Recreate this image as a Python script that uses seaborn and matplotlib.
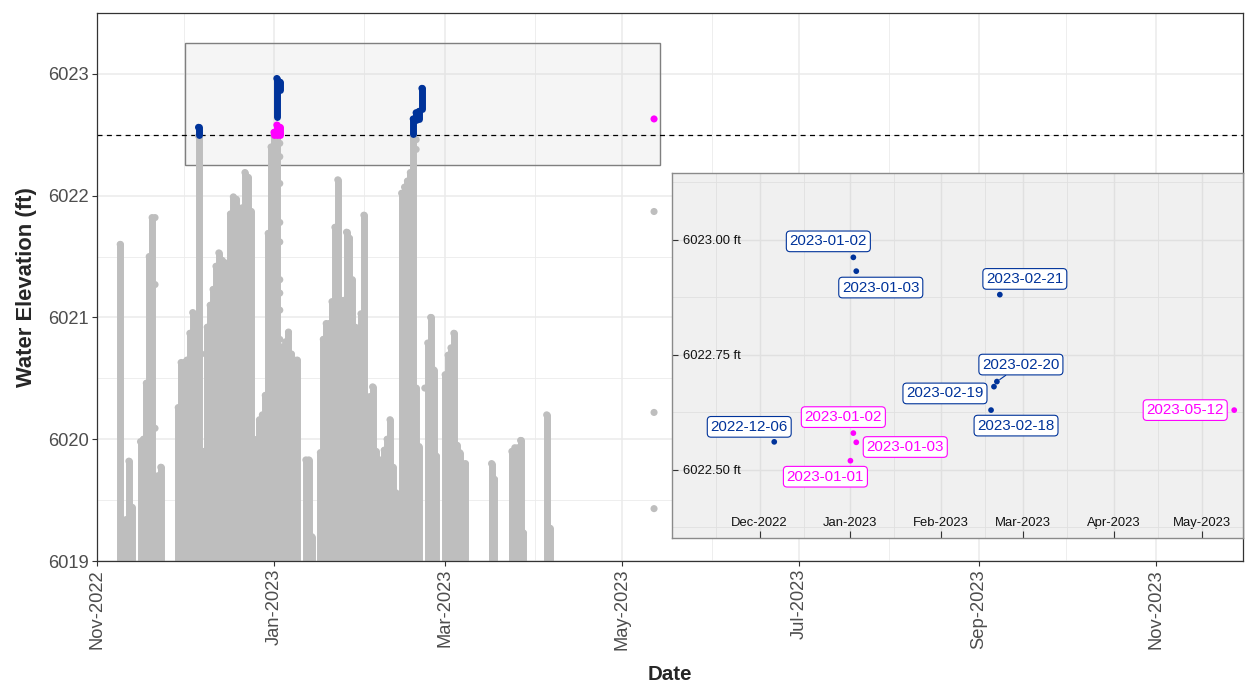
import numpy as np
import pandas as pd
import matplotlib
matplotlib.use("Agg")
import matplotlib.pyplot as plt
import matplotlib.dates as mdates
from matplotlib.patches import Rectangle
from matplotlib.ticker import MultipleLocator, FixedLocator, FuncFormatter
from matplotlib.colors import to_rgba
import seaborn as sns

# ------------------------------------------------------------------ data
# daily reading columns (gray): date and highest reading of the day (ft)
gray_dates = [
    "2022-11-09", "2022-11-11", "2022-11-12", "2022-11-13", "2022-11-16", "2022-11-17",
    "2022-11-18", "2022-11-19", "2022-11-20", "2022-11-22", "2022-11-23",
    "2022-11-29", "2022-11-30", "2022-12-01", "2022-12-02", "2022-12-03", "2022-12-04",
    "2022-12-06", "2022-12-08", "2022-12-09", "2022-12-10", "2022-12-11", "2022-12-12",
    "2022-12-13", "2022-12-14", "2022-12-15", "2022-12-16", "2022-12-17", "2022-12-18",
    "2022-12-19", "2022-12-20", "2022-12-21", "2022-12-22", "2022-12-23", "2022-12-24",
    "2022-12-25", "2022-12-26", "2022-12-27", "2022-12-28", "2022-12-29", "2022-12-30",
    "2022-12-31", "2023-01-01", "2023-01-02", "2023-01-04", "2023-01-05", "2023-01-06",
    "2023-01-07", "2023-01-08", "2023-01-09", "2023-01-12", "2023-01-13", "2023-01-14",
    "2023-01-17", "2023-01-18", "2023-01-19", "2023-01-20", "2023-01-21", "2023-01-22",
    "2023-01-23", "2023-01-24", "2023-01-25", "2023-01-26", "2023-01-27", "2023-01-28",
    "2023-01-29", "2023-01-30", "2023-01-31", "2023-02-01", "2023-02-02", "2023-02-03",
    "2023-02-04", "2023-02-05", "2023-02-06", "2023-02-07", "2023-02-08", "2023-02-09",
    "2023-02-10", "2023-02-11", "2023-02-12", "2023-02-14", "2023-02-15", "2023-02-16",
    "2023-02-17", "2023-02-18", "2023-02-19", "2023-02-20", "2023-02-23", "2023-02-24",
    "2023-02-25", "2023-02-26", "2023-03-01", "2023-03-02", "2023-03-03", "2023-03-04",
    "2023-03-05", "2023-03-06", "2023-03-07", "2023-03-08", "2023-03-17", "2023-03-18",
    "2023-03-24", "2023-03-25", "2023-03-26", "2023-03-27", "2023-03-28", "2023-04-05",
    "2023-04-06",
]
gray_tops = [
    6021.60, 6019.34, 6019.82, 6019.44, 6019.98, 6020.00,
    6020.46, 6021.50, 6021.82, 6019.70, 6019.77,
    6020.26, 6020.63, 6020.63, 6020.65, 6020.87, 6021.04,
    6022.49, 6019.90, 6020.92, 6021.10, 6021.23, 6021.42,
    6021.53, 6021.47, 6021.45, 6021.42, 6021.85, 6021.99,
    6021.97, 6021.85, 6021.90, 6022.19, 6022.15, 6021.87,
    6020.00, 6019.30, 6020.16, 6020.20, 6020.36, 6021.69,
    6022.40, 6022.49, 6022.49, 6020.76, 6020.80, 6020.88,
    6020.70, 6020.65, 6020.65, 6019.83, 6019.83, 6019.20,
    6019.89, 6020.82, 6020.95, 6020.95, 6021.13, 6021.74,
    6022.13, 6021.14, 6021.14, 6021.70, 6021.65, 6021.31,
    6020.92, 6020.90, 6021.03, 6021.84, 6020.31, 6020.35,
    6020.43, 6019.90, 6019.72, 6019.83, 6019.91, 6020.00,
    6020.16, 6019.77, 6019.56, 6022.02, 6022.07, 6022.12,
    6022.19, 6022.49, 6020.42, 6019.94, 6020.79, 6021.00,
    6020.57, 6019.86, 6020.53, 6020.69, 6020.75, 6020.87,
    6019.95, 6019.89, 6019.80, 6019.80, 6019.80, 6019.67,
    6019.90, 6019.93, 6019.93, 6019.99, 6019.23, 6020.20,
    6019.27,
]
GRAY_FLOOR = 6018.5   # daily readings continue below the visible axis

# isolated gray readings
gray_pt_dates = ["2022-11-21", "2022-11-21", "2022-11-21", "2022-12-07",
                 "2023-01-03", "2023-01-03", "2023-01-03", "2023-01-03", "2023-01-03",
                 "2023-01-03", "2023-01-03", "2023-01-03", "2023-01-03",
                 "2023-02-19", "2023-02-19", "2023-02-22",
                 "2023-05-12", "2023-05-12", "2023-05-12"]
gray_pt_vals = [6021.82, 6021.27, 6020.09, 6020.70,
                6022.43, 6022.32, 6022.10, 6021.78, 6021.62,
                6021.31, 6021.20, 6021.06, 6020.82,
                6022.46, 6022.38, 6020.42,
                6021.87, 6020.22, 6019.43]

# readings above the threshold: blue series (range of readings per day)
blue_dates = ["2022-12-06", "2023-01-02", "2023-01-03", "2023-02-18",
              "2023-02-19", "2023-02-20", "2023-02-21"]
blue_low = [6022.50, 6022.65, 6022.87, 6022.51, 6022.62, 6022.63, 6022.71]
blue_high = [6022.561, 6022.962, 6022.932, 6022.630, 6022.681, 6022.692, 6022.881]

# readings above the threshold: magenta series
mag_dates = ["2023-01-01", "2023-01-02", "2023-01-03", "2023-05-12"]
mag_low = [6022.50, 6022.50, 6022.50, 6022.63]
mag_high = [6022.520, 6022.580, 6022.560, 6022.630]

THRESHOLD = 6022.5
zoom_box_x = ["2022-12-01T12:00", "2023-05-14T00:00"]
zoom_box_y = [6022.25, 6023.25]

main_xlim = ["2022-11-01", "2023-12-01"]
main_ylim = [6019.0, 6023.5]
inset_xlim = ["2022-11-01", "2023-05-15"]
inset_ylim = [6022.352, 6023.146]
inset_xticks = ["2022-12-01", "2023-01-01", "2023-02-01", "2023-03-01", "2023-04-01", "2023-05-01"]
inset_yticks = [6022.50, 6022.75, 6023.00]

# ------------------------------------------------------------------ style
GRAY = "#bebebe"
BLUE = "#00339a"
MAG = "#ff00ff"

sns.set_style("white")
plt.rcParams["font.family"] = ["Liberation Sans", "DejaVu Sans"]

fig = plt.figure(figsize=(12.48, 6.82), dpi=100)
W, H = 1248.0, 682.0
ax = fig.add_axes([97 / W, 1 - 561 / H, (1243 - 97) / W, (561 - 13) / H])

# zoom box + threshold
bx0, bx1 = mdates.date2num(pd.to_datetime(zoom_box_x, format="ISO8601"))
ax.add_patch(Rectangle((bx0, zoom_box_y[0]), bx1 - bx0, zoom_box_y[1] - zoom_box_y[0],
                       facecolor=to_rgba("#d2d2d2", 0.22), edgecolor="#7f7f7f",
                       lw=1.0, zorder=1))
ax.axhline(THRESHOLD, color="black", lw=0.9, ls=(0, (4, 3.5)), zorder=1.5)

# gray daily columns
gx = pd.to_datetime(gray_dates)
lc = ax.vlines(gx, GRAY_FLOOR, gray_tops, colors=GRAY, lw=5.0, zorder=2)
lc.set_capstyle("round")
sns.scatterplot(x=gx, y=gray_tops, color=GRAY, s=26, edgecolor="none", ax=ax,
                zorder=2, legend=False)
sns.scatterplot(x=pd.to_datetime(gray_pt_dates), y=gray_pt_vals, color=GRAY, s=26,
                edgecolor="none", ax=ax, zorder=2, legend=False)

# highlighted readings
lm = ax.vlines(pd.to_datetime(mag_dates), mag_low, mag_high, colors=MAG, lw=5.0, zorder=3)
lm.set_capstyle("round")
sns.scatterplot(x=pd.to_datetime(mag_dates), y=mag_high, color=MAG, s=26,
                edgecolor="none", ax=ax, zorder=3, legend=False)
lb = ax.vlines(pd.to_datetime(blue_dates), blue_low, blue_high, colors=BLUE, lw=5.0, zorder=4)
lb.set_capstyle("round")
sns.scatterplot(x=pd.to_datetime(blue_dates), y=blue_high, color=BLUE, s=26,
                edgecolor="none", ax=ax, zorder=4, legend=False)

ax.set_xlim(pd.to_datetime(main_xlim))
ax.set_ylim(main_ylim)
ax.xaxis.set_major_locator(mdates.MonthLocator(bymonth=(1, 3, 5, 7, 9, 11)))
ax.xaxis.set_minor_locator(mdates.MonthLocator(bymonth=(2, 4, 6, 8, 10, 12)))
ax.xaxis.set_major_formatter(mdates.DateFormatter("%b-%Y"))
ax.yaxis.set_major_locator(MultipleLocator(1))
ax.yaxis.set_minor_locator(MultipleLocator(0.5))
ax.yaxis.set_major_formatter(FuncFormatter(lambda v, p: f"{v:.0f}"))
ax.set_axisbelow(True)
ax.grid(which="major", color="#ebebeb", lw=1.1)
ax.grid(which="minor", color="#ebebeb", lw=0.6)
ax.tick_params(which="major", direction="out", length=3.5, width=0.8, color="#333333",
               labelsize=13.2, labelcolor="#4d4d4d", pad=2.2, left=True, bottom=True)
ax.tick_params(which="minor", length=0)
ax.tick_params(axis="x", labelrotation=90)
for s in ax.spines.values():
    s.set_color("#333333")
    s.set_linewidth(0.9)
ax.set_xlabel("Date", fontsize=14.8, fontweight="bold", labelpad=10.5)
ax.set_ylabel("Water Elevation (ft)", fontsize=15.8, fontweight="bold", labelpad=8)

# ------------------------------------------------------------------ inset
axin = fig.add_axes([671.7 / W, 1 - 538 / H, (1243 - 671.7) / W, (538 - 172.7) / H])
axin.set_facecolor("#f0f0f0")

df_in = pd.DataFrame({
    "date": pd.to_datetime(blue_dates + mag_dates),
    "elev": blue_high + mag_high,
    "series": ["blue"] * len(blue_dates) + ["magenta"] * len(mag_dates),
})
df_in["label"] = df_in["date"].dt.strftime("%Y-%m-%d")
sns.scatterplot(data=df_in, x="date", y="elev", hue="series",
                palette={"blue": BLUE, "magenta": MAG}, s=17, edgecolor="none",
                legend=False, ax=axin, zorder=3)

# label placement (pixel offsets of label centre from its point)
label_dx = [-25, -25, 24.5, 25, -49, 24, 25, -25, -10, 49, -49]
label_dy = [15, 16, -16.4, -15.5, -6.8, 17, 15.7, -16, 16, -4.7, 0]
leader = [False, False, False, False, False, True, False, False, False, False, False]
for i, row in df_in.iterrows():
    c = BLUE if row["series"] == "blue" else MAG
    kw = {}
    if leader[i]:
        kw["arrowprops"] = dict(arrowstyle="-", color=c, lw=0.8, shrinkA=0, shrinkB=2.5)
    axin.annotate(row["label"], xy=(row["date"], row["elev"]),
                  xytext=(label_dx[i], label_dy[i]), textcoords="offset pixels",
                  ha="center", va="center", color=c, fontsize=10.9, zorder=5,
                  bbox=dict(boxstyle="round,pad=0.22,rounding_size=0.25", fc="white",
                            ec=c, lw=0.8), **kw)

axin.set_xlim(pd.to_datetime(inset_xlim))
axin.set_ylim(inset_ylim)
axin.xaxis.set_major_locator(FixedLocator(mdates.date2num(pd.to_datetime(inset_xticks))))
axin.xaxis.set_minor_locator(mdates.MonthLocator(bymonthday=16))
axin.xaxis.set_major_formatter(mdates.DateFormatter("%b-%Y"))
axin.yaxis.set_major_locator(FixedLocator(inset_yticks))
axin.yaxis.set_minor_locator(MultipleLocator(0.125))
axin.yaxis.set_major_formatter(FuncFormatter(lambda v, p: f"{v:.2f} ft"))
axin.set_axisbelow(True)
axin.grid(which="major", color="#e0e0e0", lw=1.0)
axin.grid(which="minor", color="#e0e0e0", lw=0.6)
axin.tick_params(which="minor", length=0)
axin.tick_params(axis="y", which="major", direction="in", length=4, width=0.8,
                 color="#333333", pad=-8.2, labelsize=9.4, labelcolor="#111111", left=True)
axin.tick_params(axis="x", which="major", direction="in", length=5, width=0.8,
                 color="#333333", pad=-6.5, labelsize=9.4, labelcolor="#111111", bottom=True)
for lab in axin.get_yticklabels():
    lab.set_horizontalalignment("left")
for lab in axin.get_xticklabels():
    lab.set_verticalalignment("bottom")
for s in axin.spines.values():
    s.set_color("#8a8a8a")
    s.set_linewidth(1.0)
axin.set_xlabel("")
axin.set_ylabel("")

fig.savefig("out.png", dpi=100)
